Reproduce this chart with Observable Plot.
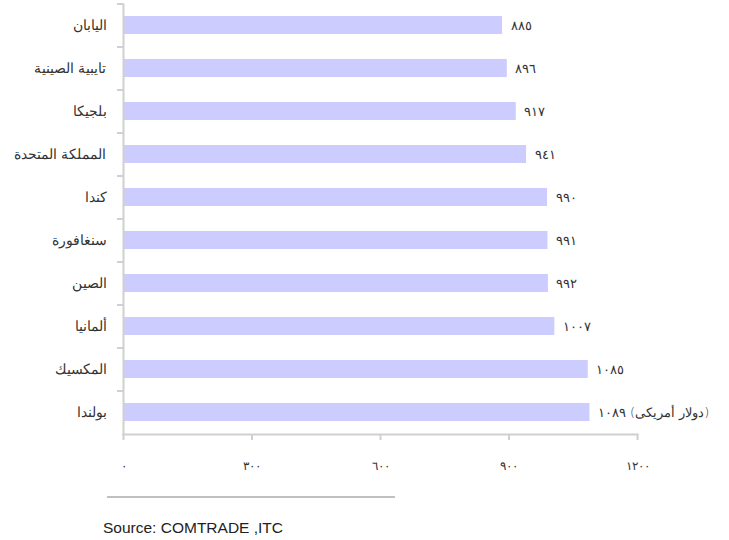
<!DOCTYPE html>
<html>
<head>
<meta charset="utf-8">
<script src="https://cdn.jsdelivr.net/npm/d3@7"></script>
<script src="https://cdn.jsdelivr.net/npm/@observablehq/plot@0.6"></script>
<style>
  html, body { margin: 0; padding: 0; background: #fff; overflow: hidden; }
  #chart { width: 729px; }
  .rule { margin-left: 107px; width: 288px; height: 2px; background: #c0c0c0; margin-top: 16px; }
  .source { font-family: "Liberation Sans", Arial, sans-serif; font-size: 15.5px; color: #222; margin-left: 103px; margin-top: 21px; line-height: 18px; }
</style>
</head>
<body>
<div id="chart"></div>
<script>
const countries = ["اليابان", "تايبية الصينية", "بلجيكا", "المملكة المتحدة", "كندا", "سنغافورة", "الصين", "ألمانيا", "المكسيك", "بولندا"];
const values = [885, 896, 917, 941, 990, 991, 992, 1007, 1085, 1089];
const xTicks = [0, 300, 600, 900, 1200];
const unitLabel = "(دولار أمريكى)";
const sourceText = "Source: COMTRADE ,ITC";

const digits = "٠١٢٣٤٥٦٧٨٩";
const ar = (n) => String(n).replace(/[0-9]/g, (d) => digits[+d]);

const data = countries.map((c, i) => ({
  country: c,
  value: values[i],
  label: i === countries.length - 1 ? ar(values[i]) + "\u200E " + unitLabel : ar(values[i])
}));

const W = 729, H = 480, mTop = 4, mBottom = 46;
const step = (H - mTop - mBottom) / countries.length;
const font = "DejaVu Sans, sans-serif";

const chart = Plot.plot({
  width: W,
  height: H,
  marginLeft: 123,
  marginRight: 92,
  marginTop: mTop,
  marginBottom: mBottom,
  style: { fontFamily: font, color: "#333", background: "#fff", overflow: "visible" },
  x: { domain: [0, 1200] },
  y: { domain: countries, paddingInner: 0.58, paddingOuter: 0.29 },
  marks: [
    Plot.barX(data, { x: "value", y: "country", fill: "#ccccff" }),
    Plot.text(data, { x: "value", y: "country", text: "label", textAnchor: "start", dx: 8, fontSize: 13, fill: "#333", fontWeight: 300 }),
    Plot.frame({ anchor: "left", stroke: "#d0d0d0", strokeWidth: 2, strokeOpacity: 1 }),
    Plot.frame({ anchor: "bottom", stroke: "#d0d0d0", strokeWidth: 2, strokeOpacity: 1 }),
    Plot.axisY({ tickSize: 6, dy: -step / 2, text: null, label: null, stroke: "#d0d0d0", strokeWidth: 2, strokeOpacity: 1 }),
    Plot.axisY({ tickSize: 0, tickPadding: 17, fontSize: 14, fill: "#333", label: null, fontWeight: 300 }),
    Plot.axisX({ ticks: xTicks, tickSize: 6, tickPadding: 21, tickFormat: ar, fontSize: 12, fill: "#333", stroke: "#d0d0d0", strokeWidth: 2, strokeOpacity: 1, label: null, fontWeight: 300 })
  ]
});
document.getElementById("chart").append(chart);
const rule = document.createElement("div");
rule.className = "rule";
document.body.append(rule);
const src = document.createElement("div");
src.className = "source";
src.textContent = sourceText;
document.body.append(src);
</script>
</body>
</html>
